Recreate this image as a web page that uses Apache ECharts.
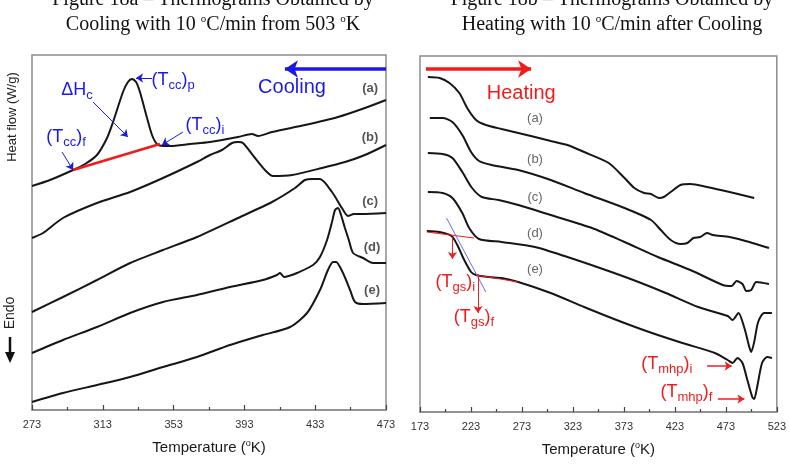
<!DOCTYPE html>
<html>
<head>
<meta charset="utf-8">
<script src="https://cdn.jsdelivr.net/npm/echarts@6/dist/echarts.min.js"></script>
<style>
    html, body { margin: 0; padding: 0; background: #fff; }
    #chart { width: 789px; height: 464px; }
</style>
</head>
<body>
<div id="chart"></div>
<script>
// Figure 18a, cooling runs: [temperature (K), heat flow (offset, arb. units)]
var coolA = [[273.0, 224], [283.2, 230], [296.2, 240], [303.0, 246], [309.7, 255], [315.4, 272], [318.8, 288], [324.4, 318], [327.2, 328], [329.5, 331], [331.8, 328], [334.0, 318], [338.0, 292], [340.8, 275], [343.6, 266], [347.0, 264], [351.0, 264], [362.3, 266], [373.6, 268], [389.4, 273], [397.3, 276], [400.7, 274], [408.6, 278], [427.2, 285], [445.9, 293], [461.1, 302], [473.0, 310]]
var coolB = [[273.0, 172], [279.2, 177], [290.5, 192], [309.7, 207], [328.4, 218], [347.0, 232], [366.2, 248], [373.6, 255], [380.3, 260], [386.0, 267], [389.4, 268], [392.2, 267], [399.0, 252], [404.6, 240], [409.2, 234], [419.9, 235], [436.8, 242], [449.8, 248], [461.1, 255], [473.0, 265]]
var coolC = [[273.0, 98], [290.5, 113], [309.7, 130], [328.4, 147], [347.0, 160], [366.2, 173], [389.4, 192], [408.6, 208], [421.6, 222], [427.2, 230], [431.2, 231], [435.7, 231], [442.5, 218], [448.1, 202], [451.5, 194], [454.9, 196], [459.4, 196], [473.0, 197]]
var coolD = [[273.0, 57], [290.5, 70], [309.7, 83], [328.4, 97], [347.0, 108], [366.2, 115], [384.9, 123], [403.5, 130], [411.4, 135], [413.1, 137], [415.4, 133], [418.0, 134], [422.7, 137], [431.8, 145], [435.7, 153], [439.7, 170], [442.5, 188], [444.2, 200], [445.9, 202], [447.6, 195], [449.8, 182], [452.0, 170], [454.4, 157], [460.0, 152], [465.7, 147], [473.0, 147]]
var coolE = [[273.0, 8], [290.5, 17], [309.7, 25], [328.4, 33], [347.0, 43], [366.2, 53], [384.9, 65], [403.5, 75], [418.8, 83], [428.4, 97], [435.7, 120], [440.2, 140], [443.1, 148], [444.8, 148], [448.7, 137], [452.7, 120], [455.5, 108], [460.0, 106], [473.0, 107]]

// Figure 18b, heating runs
var heatA = [[180.7, 335], [192.3, 334], [201.9, 329], [211.6, 319], [219.3, 304], [228.0, 292], [237.6, 287], [253.0, 283], [269.4, 279], [285.8, 275], [301.2, 271], [317.6, 267], [334.0, 260], [358.1, 249], [373.6, 234], [383.2, 224], [392.8, 219], [399.6, 218], [407.3, 214], [412.1, 215], [418.9, 220], [428.5, 227], [438.2, 228], [454.6, 225], [476.7, 220], [500.8, 214]]
var heatB = [[182.6, 294], [195.2, 294], [204.8, 290], [214.5, 277], [223.1, 260], [230.9, 251], [243.4, 247], [269.4, 242], [301.2, 232], [334.0, 219], [373.6, 204], [399.6, 192], [409.2, 182], [418.9, 172], [428.5, 168], [435.3, 169], [441.1, 174], [447.8, 175], [454.6, 179], [460.3, 177], [476.7, 175], [496.0, 170], [515.3, 164]]
var heatC = [[180.7, 259], [195.2, 258], [204.8, 254], [214.5, 240], [224.1, 224], [233.7, 215], [250.1, 212], [269.4, 207], [301.2, 197], [341.7, 184], [373.6, 170], [406.3, 155], [438.2, 142], [470.0, 127], [478.7, 126], [483.5, 131], [489.3, 128], [493.1, 121], [497.9, 122], [502.8, 130], [515.3, 128]]
var heatD = [[180.7, 220], [195.2, 219], [204.8, 214], [214.5, 199], [221.2, 184], [230.9, 173], [253.0, 170], [285.8, 165], [317.6, 155], [349.5, 144], [382.2, 132], [414.1, 119], [445.9, 105], [474.8, 96], [479.6, 92], [485.4, 99], [491.2, 84], [496.0, 65], [497.9, 60], [500.8, 70], [504.7, 90], [510.5, 99], [518.2, 99]]
var heatE = [[179.7, 181], [192.3, 180], [203.9, 176], [209.6, 167], [216.4, 152], [223.1, 140], [228.0, 137], [240.5, 135], [253.0, 134], [269.4, 130], [301.2, 119], [334.0, 105], [365.8, 92], [397.7, 80], [430.4, 69], [462.3, 59], [474.8, 52], [479.6, 49], [484.4, 54], [489.3, 49], [494.1, 32], [498.9, 15], [500.8, 13], [503.7, 25], [508.5, 49], [513.4, 55], [518.2, 54]]

// construction lines
var ccBaseline = [[296.2, 240], [345.3, 266]]
var gsTangentLow = [[179.7, 180], [226.0, 174]]
var gsTangentSlope = [[199.0, 194], [237.6, 120]]
var gsTangentHigh = [[228.0, 137], [269.4, 130]]

// arrows: [from, to]
var coolingArrow = [[[473.0, 341], [415.9, 341]]]
var coolNoteArrows = [
    [[340.8, 332], [331.8, 332]],
    [[307.5, 308], [327.2, 273]],
    [[290.0, 258], [296.2, 240]],
    [[358.3, 278], [346.4, 265]]
]
var heatingArrow = [[[178.8, 343], [282.0, 343]]]
var gsArrows = [[[204.8, 175], [204.8, 153]], [[229.9, 137], [229.9, 99]]]
var mhpArrows = [[[454.6, 46], [478.7, 46]], [[465.2, 13], [491.2, 13]]]

// annotation texts: [text, temperature, heat flow]
var coolNotes = [['(T{s|cc}){s|p}', 352.7, 330], ['\u0394H{s|c}', 298.4, 320], ['(T{s|cc}){s|f}', 292.2, 273], ['(T{s|cc}){s|i}', 370.7, 285]]
var coolTag = [['Cooling', 419.9, 323]]
var coolRuns = [['(a)', 464.0, 322], ['(b)', 464.0, 273], ['(c)', 464.0, 209], ['(d)', 465.1, 163], ['(e)', 465.1, 120]]
var heatNotes = [['(T{s|gs}){s|i}', 207.7, 130], ['(T{s|gs}){s|f}', 226.0, 95], ['(T{s|mhp}){s|i}', 415.0, 48], ['(T{s|mhp}){s|f}', 434.3, 20]]
var heatTag = [['Heating', 272.3, 319]]
var heatRuns = [['(a)', 285.8, 294], ['(b)', 285.8, 253], ['(c)', 285.8, 215], ['(d)', 285.8, 179], ['(e)', 285.8, 143]]

var coolTicks = { min: 273, max: 473, step: 40 }
var heatTicks = { min: 173, max: 523, step: 50 }

var SANS = 'Liberation Sans'
var SERIF = 'Liberation Serif'
var BLUE = '#1a1ae6'
var RED = '#f01c1c'

var chart = echarts.init(document.getElementById('chart'))

function curve(data, i) {
    return {
        type: 'line', xAxisIndex: i, yAxisIndex: i, data: data,
        symbol: 'none', smooth: 0.25, silent: true, z: 3,
        lineStyle: { color: '#161616', width: 2 }
    }
}

function straight(data, i, color, width) {
    return {
        type: 'line', xAxisIndex: i, yAxisIndex: i, data: data,
        symbol: 'none', silent: true, z: 4,
        lineStyle: { color: color, width: width }
    }
}

function arrows(list, i, color, width, size) {
    return {
        type: 'lines', coordinateSystem: 'cartesian2d', xAxisIndex: i, yAxisIndex: i,
        symbol: ['none', 'arrow'], symbolSize: size, silent: true, z: 5,
        lineStyle: { color: color, width: width, opacity: 1, curveness: 0 },
        data: list.map(function(c) { return { coords: c } })
    }
}

function texts(list, i, color, size, weight) {
    return {
        type: 'scatter', xAxisIndex: i, yAxisIndex: i, symbolSize: 1, silent: true, z: 6,
        itemStyle: { color: 'rgba(0,0,0,0)', opacity: 1 },
        data: list.map(function(t) { return { name: t[0], value: [t[1], t[2]] } }),
        label: {
            show: true, position: 'inside', color: color, opacity: 1, fontSize: size, fontFamily: SANS,
            fontWeight: weight || 'normal', lineHeight: size + 6,
            formatter: function(p) { return p.name },
            rich: {
                s: { fontSize: Math.round(size * 0.72), fontFamily: SANS, color: color, verticalAlign: 'bottom', lineHeight: Math.round(size * 0.72) }
            }
        }
    }
}

function tempAxis(i, t) {
    return {
        type: 'value', gridIndex: i, min: t.min, max: t.max, interval: t.step,
        name: 'Temperature ({o|o}K)', nameLocation: 'middle', nameGap: 29,
        nameTextStyle: {
            fontSize: 15, color: '#1a1a1a', fontFamily: SANS, lineHeight: 18,
            rich: { o: { fontSize: 9, fontFamily: SANS, color: '#1a1a1a', verticalAlign: 'top', lineHeight: 9 } }
        },
        axisLine: { show: true, lineStyle: { color: '#8c8c8c', width: 1.5 } },
        axisTick: { inside: true, length: 5, lineStyle: { color: '#444', width: 1.2 } },
        minorTick: { show: true, splitNumber: 2, length: 3, lineStyle: { color: '#444', width: 1.2 } },
        axisLabel: { fontSize: 11, color: '#333', fontFamily: SANS, margin: 9 },
        splitLine: { show: false }
    }
}

function flowAxis(i, top) {
    return { type: 'value', gridIndex: i, min: 0, max: top, show: false }
}

var titleRich = { o: { fontSize: 11, fontFamily: SERIF, fill: '#111', verticalAlign: 'top', lineHeight: 11 } }

function titleText(x, y, text) {
    return {
        type: 'text', x: x, y: y, silent: true,
        style: {
            text: text, fill: '#111', fontSize: 20, fontFamily: SERIF, lineHeight: 22,
            align: 'center', verticalAlign: 'middle', rich: titleRich
        }
    }
}

var option = {
    animation: false,
    backgroundColor: '#fff',
    textStyle: { fontFamily: SANS },
    grid: [
        { left: 32, top: 55, width: 354, height: 355, show: true, borderColor: '#8c8c8c', borderWidth: 1.5 },
        { left: 420, top: 56, width: 363, height: 356, show: true, borderColor: '#8c8c8c', borderWidth: 1.5 }
    ],
    xAxis: [tempAxis(0, coolTicks), tempAxis(1, heatTicks)],
    yAxis: [flowAxis(0, 355), flowAxis(1, 356)],
    graphic: [
        titleText(213, 0, 'Figure 18a \u2013 Thermograms Obtained by'),
        titleText(213, 25, 'Cooling with 10 {o|o}C/min from 503 {o|o}K'),
        titleText(612, 0, 'Figure 18b \u2013 Thermograms Obtained by'),
        titleText(612, 25, 'Heating with 10 {o|o}C/min after Cooling'),
        {
            type: 'text', x: 12, y: 117, rotation: Math.PI / 2, silent: true,
            style: { text: 'Heat flow (W/g)', fill: '#222', fontSize: 13, fontFamily: SANS, align: 'center', verticalAlign: 'middle' }
        },
        {
            type: 'text', x: 10, y: 313, rotation: Math.PI / 2, silent: true,
            style: { text: 'Endo', fill: '#222', fontSize: 14, fontFamily: SANS, align: 'center', verticalAlign: 'middle' }
        },
        { type: 'line', silent: true, shape: { x1: 10, y1: 337, x2: 10, y2: 355 }, style: { stroke: '#111', lineWidth: 2.5 } },
        { type: 'polygon', silent: true, shape: { points: [[5, 352], [15, 352], [10, 363]] }, style: { fill: '#111' } }
    ],
    series: [
        curve(coolA, 0), curve(coolB, 0), curve(coolC, 0), curve(coolD, 0), curve(coolE, 0),
        straight(ccBaseline, 0, RED, 2.5),
        arrows(coolingArrow, 0, BLUE, 3.5, 13),
        arrows(coolNoteArrows, 0, BLUE, 1, 7),
        texts(coolNotes, 0, BLUE, 18),
        texts(coolTag, 0, BLUE, 20),
        texts(coolRuns, 0, '#555', 13, 'bold'),

        curve(heatA, 1), curve(heatB, 1), curve(heatC, 1), curve(heatD, 1), curve(heatE, 1),
        straight(gsTangentLow, 1, RED, 1),
        straight(gsTangentSlope, 1, '#6b6bf0', 1),
        straight(gsTangentHigh, 1, RED, 1),
        arrows(heatingArrow, 1, RED, 3.5, 13),
        arrows(gsArrows, 1, RED, 1, 7),
        arrows(mhpArrows, 1, RED, 1.5, 7),
        texts(heatNotes, 1, RED, 18),
        texts(heatTag, 1, RED, 20),
        texts(heatRuns, 1, '#666', 13)
    ]
}

chart.setOption(option)
</script>
</body>
</html>
